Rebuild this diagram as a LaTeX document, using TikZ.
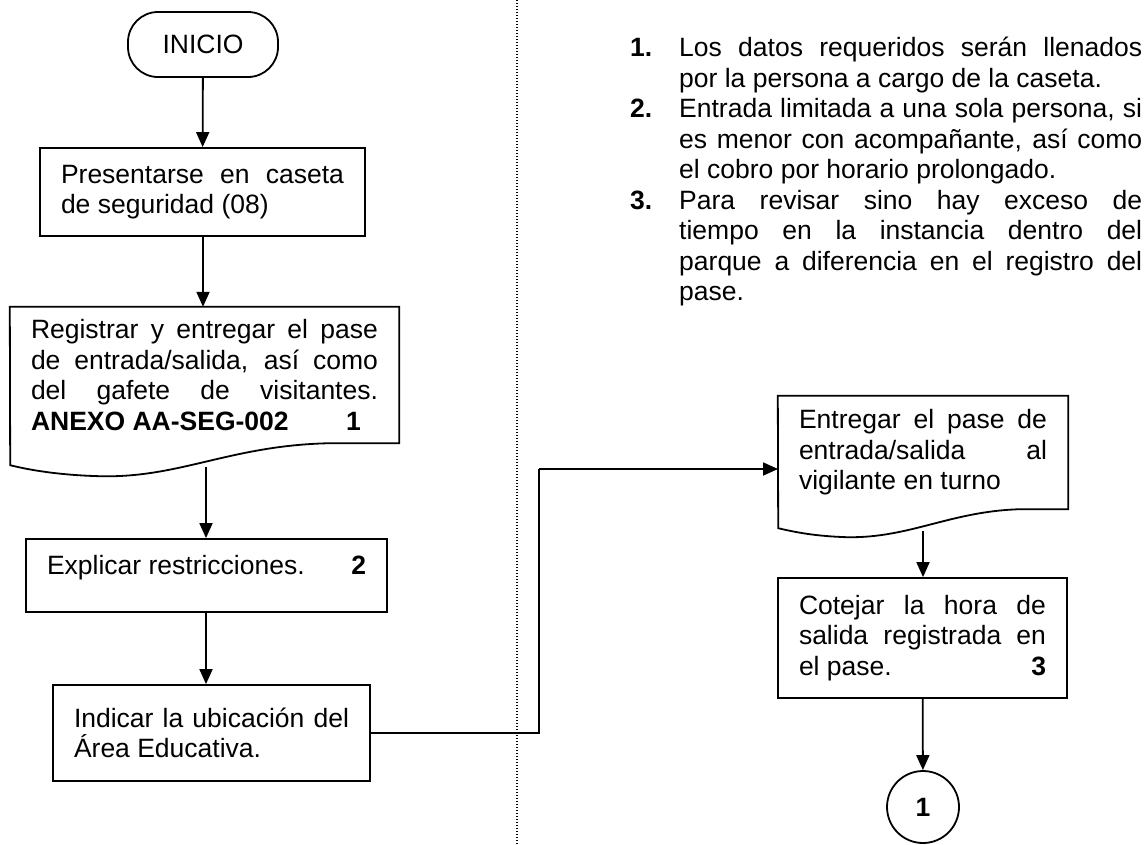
\documentclass[tikz,border=0pt]{standalone}
\usepackage{fontspec}
\setmainfont{Liberation Sans}
\usetikzlibrary{arrows.meta}
\newcommand\flowfont{\fontsize{26.5pt}{30.5pt}\selectfont}
\newcommand\notaitem[2]{\noindent\hangindent=49pt\hangafter=1\makebox[49pt][l]{\textbf{#1}}#2\par}

\begin{document}
\begin{tikzpicture}[x=1pt,y=1pt,yscale=-1,xscale=1,
  proc/.style={draw,line width=1.8pt,rectangle,inner xsep=21pt,inner ysep=0pt,align=justify,font=\flowfont},
  docbox/.style={inner xsep=21pt,inner ysep=0pt,align=justify,font=\flowfont},
  arr/.style={line width=1.8pt,-{Triangle[width=13pt,length=15pt]}}]
\useasboundingbox (0,0) rectangle (1147,844);
% separator
\draw [line width=1.4pt,dash pattern=on 1.4pt off 1.6pt] (517,0) -- (517,844);
% Text Node
\draw (203,44.5) node [draw,line width=1.8pt,rounded corners=30pt,minimum width=150pt,minimum height=65pt,font=\flowfont] (ini) {INICIO};
% Text Node
\draw (202.5,192) node [proc,text width=283pt,minimum height=88pt] (pres) {Presentarse en caseta\linebreak de seguridad (08)};
% Text Node
\draw (204.5,375) node [docbox,text width=347pt,minimum width=389pt,minimum height=136pt] (reg) {Registrar y entregar el pase\linebreak de entrada/salida, así como\linebreak del gafete de visitantes.\linebreak \textbf{ANEXO AA-SEG-002}\hskip0pt plus1filll\textbf{1}\hskip17pt\hbox{}};
\draw [line width=1.8pt] (reg.north west) -- (reg.north east) -- (reg.south east) -- ++(-69,0) .. controls +(-100,2) and +(80,2) .. ++(-230,33) .. controls +(-40,-1) and +(20,5) .. ++(-90,-11) -- cycle;
\coordinate (regout) at (206,467);
% Text Node
\draw (206.5,575.5) node [proc,text width=319pt,minimum height=73pt,text depth=21pt] (expl) {Explicar restricciones.\hskip0pt plus1filll\textbf{2}};
% Text Node
\draw (211.5,733) node [proc,text width=275pt,minimum height=96pt] (ind) {Indicar la ubicación del\linebreak Área Educativa.};
% Text Node
\draw (923,452.5) node [docbox,text width=248pt,minimum width=290pt,minimum height=113pt] (ent) {Entregar el pase de\linebreak entrada/salida al\linebreak vigilante en turno};
\draw [line width=1.8pt] (ent.north west) -- (ent.north east) -- (ent.south east) -- ++(-48,0) .. controls +(-70,2) and +(63,1) .. ++(-173,28) .. controls +(-32,-1) and +(17,4) .. ++(-69,-9) -- cycle;
\coordinate (entin) at (778,469);
\coordinate (bend) at (539,469);
\coordinate (entout) at (923,531);
% Text Node
\draw (922.5,638) node [proc,text width=247pt,minimum height=120pt] (cot) {Cotejar la hora de\linebreak salida registrada en\linebreak el pase.\hskip0pt plus1filll\textbf{3}};
% Text Node
\draw (923,807) node [circle,draw,line width=1.8pt,minimum size=72pt,inner sep=0pt,font=\flowfont\bfseries] (fin) {1};
% notes
\draw (630,37) node [anchor=north west,inner sep=0pt,text width=512pt,align=justify,font=\flowfont] (notas) {%
\notaitem{1.}{Los datos requeridos serán llenados\linebreak por la persona a cargo de la caseta.}%
\notaitem{2.}{Entrada limitada a una sola persona, si\linebreak es menor con acompañante, así como\linebreak el cobro por horario prolongado.}%
\notaitem{3.}{Para revisar sino hay exceso de\linebreak tiempo en la instancia dentro del\linebreak parque a diferencia en el registro del\linebreak pase.}};
% connectors
\draw [arr] (ini) -- (pres);
\draw [arr] (pres.south -| ini) -- (reg.north -| ini);
\draw [arr] (regout) -- (regout |- expl.north);
\draw [arr] (regout |- expl.south) -- (regout |- ind.north);
\draw [line width=1.8pt] (ind.east) -| (bend);
\draw [arr] (bend) -- (entin);
\draw [arr] (entout) -- (entout |- cot.north);
\draw [arr] (cot) -- (fin);
\end{tikzpicture}
\end{document}
